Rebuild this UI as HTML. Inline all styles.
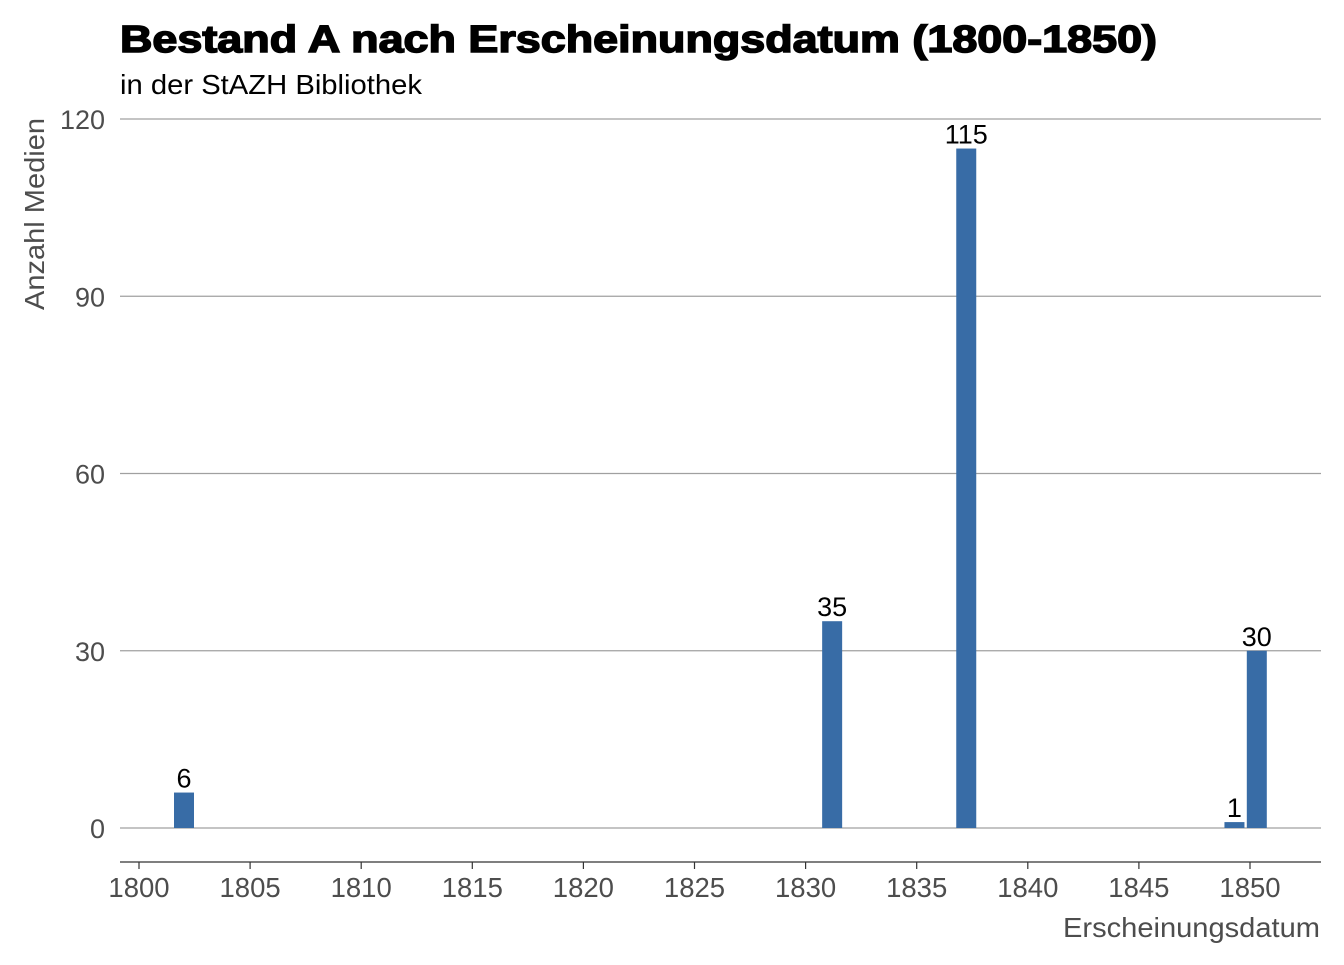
<!DOCTYPE html>
<html><head><meta charset="utf-8"><style>
body{margin:0;background:#fff;}
svg text{font-family:"Liberation Sans",Arial,sans-serif;}
</style></head><body>
<svg id="chart" width="1344" height="960" xmlns="http://www.w3.org/2000/svg">
<text x="120" y="52" font-size="38" font-weight="bold" fill="#000" stroke="#000" stroke-width="1.5" textLength="1037" lengthAdjust="spacingAndGlyphs">Bestand A nach Erscheinungsdatum (1800-1850)</text>
<text x="120" y="94" font-size="28" textLength="302" lengthAdjust="spacingAndGlyphs" fill="#000">in der StAZH Bibliothek</text>
<g id="grid"></g>
<g id="bars"></g>
<g id="xaxis"></g>
<text transform="translate(44,214) rotate(-90)" text-anchor="middle" font-size="28" textLength="192" lengthAdjust="spacingAndGlyphs" fill="#4d4d4d">Anzahl Medien</text>
<text x="1320" y="937" text-anchor="end" font-size="28" textLength="257" lengthAdjust="spacingAndGlyphs" fill="#4d4d4d">Erscheinungsdatum</text>
</svg>
<script>
const years = [1802, 1831, 1837, 1849, 1850];
const counts = [6, 35, 115, 1, 30];
const yTicks = [0, 30, 60, 90, 120];
const xTicks = [1800, 1805, 1810, 1815, 1820, 1825, 1830, 1835, 1840, 1845, 1850];
const NS = "http://www.w3.org/2000/svg";
const xs = v => 139 + (v - 1800) * (1250 - 139) / 50;
const xb = v => 139.3 + (v - 1800) * 22.35;
const ys = v => 828 - v * (828 - 119) / 120;
function mk(tag, attrs, parent, txt) {
  const e = document.createElementNS(NS, tag);
  for (const k in attrs) e.setAttribute(k, attrs[k]);
  if (txt !== undefined) e.textContent = txt;
  parent.appendChild(e);
  return e;
}
const grid = document.getElementById('grid');
yTicks.forEach(t => {
  const l = mk('line', {x1: 120, x2: 1321, y1: ys(t), y2: ys(t), stroke: '#a0a0a0', 'stroke-width': 1.2}, grid);
  
  
  const tx = mk('text', {x: 105, y: ys(t) + 10, 'text-anchor': 'end', 'font-size': 27, fill: '#4d4d4d'}, grid, t);
  
  
});
const bars = document.getElementById('bars');
const bw = 20;
years.forEach((yr, i) => {
  const r = mk('rect', {x: xb(yr) - bw / 2, y: ys(counts[i]), width: bw, height: ys(0) - ys(counts[i]), fill: '#386ca6'}, bars);
  
  
  const t = mk('text', {x: xb(yr), y: ys(counts[i]) - 5, 'text-anchor': 'middle', 'font-size': 27, fill: '#000'}, bars, counts[i]);
  
  
});
const xa = document.getElementById('xaxis');
const al = mk('line', {x1: 120, x2: 1321, y1: 862, y2: 862, stroke: '#333', 'stroke-width': 1.2}, xa);


xTicks.forEach(t => {
  const l = mk('line', {x1: xs(t), x2: xs(t), y1: 862, y2: 869, stroke: '#333', 'stroke-width': 1.2}, xa);
  
  
  const tx = mk('text', {x: xs(t), y: 897, 'text-anchor': 'middle', 'font-size': 27.5, fill: '#4d4d4d'}, xa, t);
  
  
});
</script>
</body></html>
